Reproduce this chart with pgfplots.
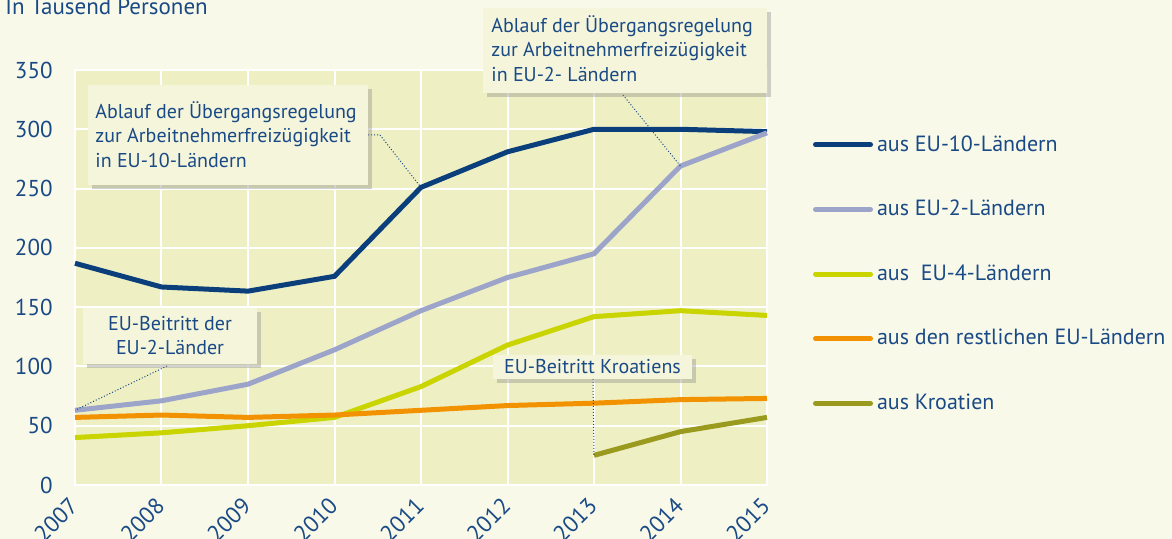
\documentclass[border=0pt]{standalone}
\usepackage{pgfplots}
\pgfplotsset{compat=1.18}
\usepackage{fontspec}
\setmainfont{PT Sans}
\usetikzlibrary{shadows}
\definecolor{pagebg}{HTML}{F9F9EA}
\definecolor{plotbg}{HTML}{EEF0C4}
\definecolor{boxbg}{HTML}{F5F5DC}
\definecolor{txt}{HTML}{1A4A85}
\definecolor{cEUten}{HTML}{0B3F7C}
\definecolor{cEUtwo}{HTML}{9CA4CA}
\definecolor{cEUfour}{HTML}{C9D400}
\definecolor{cRest}{HTML}{F39200}
\definecolor{cKro}{HTML}{9A9A1E}
\begin{document}
\begin{tikzpicture}
\useasboundingbox (-37.5pt,-27pt) rectangle (548.5pt,242.5pt);
\fill[pagebg] (-37.5pt,-27pt) rectangle (548.5pt,242.5pt);
\begin{axis}[
  at={(0pt,0pt)}, anchor=south west,
  scale only axis, width=346pt, height=207.5pt,
  xmin=2007, xmax=2015, ymin=0, ymax=350,
  xtick={2007,2008,2009,2010,2011,2012,2013,2014,2015},
  xticklabels={2007,2008,2009,2010,2011,2012,2013,2014,2015},
  ytick={0,50,100,150,200,250,300,350},
  grid=major, grid style={white, line width=1pt},
  axis line style={white, line width=1pt},
  major tick length=0pt,
  axis background/.style={fill=plotbg},
  tick label style={text=txt, font=\fontsize{11.5}{13}\selectfont},
  /pgf/number format/assume math mode=true,
  xticklabel style={rotate=45, anchor=north east, inner sep=0pt, xshift=-6.3pt, yshift=-1.2pt},
  yticklabel style={anchor=east, inner sep=0pt, xshift=-11pt},
  clip=false,
  legend style={at={(1.0665,0.852)}, anchor=north west, draw=none, fill=none,
    font=\fontsize{11}{13}\selectfont, text=txt, row sep=19pt,
    inner sep=0pt, outer sep=0pt,
    /tikz/every even column/.append style={column sep=5.5pt}},
  legend cell align=left,
  legend image code/.code={\draw[#1, line width=2.5pt, line cap=round] (0pt,0pt) -- (27.5pt,0pt);},
]
\addplot[cEUten, line width=2.5pt] coordinates {(2007,187) (2008,167) (2009,163.5) (2010,176) (2011,251) (2012,281) (2013,300) (2014,300) (2015,298)};
\addlegendentry{aus EU-10-Ländern}
\addplot[cEUtwo, line width=2.5pt] coordinates {(2007,63) (2008,71) (2009,85) (2010,114) (2011,147) (2012,175) (2013,195) (2014,269) (2015,297)};
\addlegendentry{aus EU-2-Ländern}
\addplot[cEUfour, line width=2.5pt] coordinates {(2007,40) (2008,44) (2009,50) (2010,57) (2011,83) (2012,118) (2013,142) (2014,147) (2015,143)};
\addlegendentry{aus\ \ EU-4-Ländern}
\addplot[cRest, line width=2.5pt] coordinates {(2007,57) (2008,59) (2009,57) (2010,59) (2011,63) (2012,67) (2013,69) (2014,72) (2015,73)};
\addlegendentry{aus den restlichen EU-Ländern}
\addplot[cKro, line width=2.5pt] coordinates {(2013,25) (2014,45) (2015,57)};
\addlegendentry{aus Kroatien}
\coordinate (pA) at (axis cs:2011,251);
\coordinate (pB) at (axis cs:2014,269);
\coordinate (pC) at (axis cs:2007,63);
\coordinate (pD) at (axis cs:2013,25);
\end{axis}
% title
\node[anchor=base west, inner sep=0pt, text=txt, font=\fontsize{11.5}{13}\selectfont] at (-35pt,235pt) {In Tausend Personen};
% connectors
\draw[txt, densely dotted, line width=0.5pt] (146.5pt,175pt) -- (152.5pt,175pt) -- (pA);
\draw[txt, densely dotted, line width=0.5pt] (274pt,195pt) -- (pB);
\draw[txt, densely dotted, line width=0.5pt] (46pt,59.5pt) -- (pC);
\draw[txt, densely dotted, line width=0.5pt] (259pt,53pt) -- (pD);
% boxes
\fill[boxbg, drop shadow={shadow xshift=2pt, shadow yshift=-2pt, opacity=0.35, fill=gray}] (6.5pt,150pt) rectangle (146.5pt,200pt);
\fill[boxbg, drop shadow={shadow xshift=2pt, shadow yshift=-2pt, opacity=0.35, fill=gray}] (204pt,196pt) rectangle (346pt,238.5pt);
\fill[boxbg, drop shadow={shadow xshift=2pt, shadow yshift=-2pt, opacity=0.35, fill=gray}] (4pt,60.5pt) rectangle (91pt,88.5pt);
\fill[boxbg, drop shadow={shadow xshift=2pt, shadow yshift=-2pt, opacity=0.35, fill=gray}] (209pt,53pt) rectangle (308.5pt,65pt);
\begin{scope}[every node/.style={inner sep=0pt, text=txt, font=\fontsize{10}{12}\selectfont}]
\node[anchor=base west] at (10pt,183pt) {Ablauf der Übergangsregelung};
\node[anchor=base west] at (10pt,171pt) {zur Arbeitnehmerfreizügigkeit};
\node[anchor=base west] at (10pt,158.5pt) {in EU-10-Ländern};
\node[anchor=base west] at (208pt,226pt) {Ablauf der Übergangsregelung};
\node[anchor=base west] at (208pt,214pt) {zur Arbeitnehmerfreizügigkeit};
\node[anchor=base west] at (208pt,201.5pt) {in EU-2- Ländern};
\node[anchor=base] at (47.5pt,77pt) {EU-Beitritt der};
\node[anchor=base] at (47.5pt,65pt) {EU-2-Länder};
\node[anchor=base] at (258.75pt,55.5pt) {EU-Beitritt Kroatiens};
\end{scope}
\end{tikzpicture}
\end{document}
